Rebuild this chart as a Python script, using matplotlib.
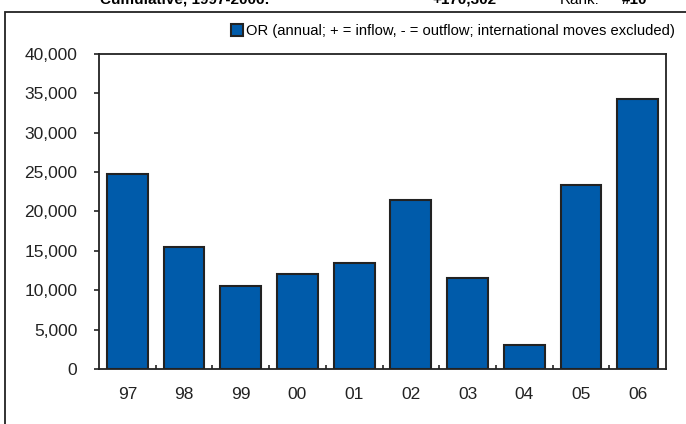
"""
OR annual net domestic migration, 1997-2006
"""

import matplotlib
matplotlib.use("Agg")
import matplotlib.pyplot as plt
from matplotlib.patches import Rectangle
from matplotlib.ticker import FuncFormatter

############################# Data #############################

years = ["97", "98", "99", "00", "01", "02", "03", "04", "05", "06"]
net_flow = [24800, 15500, 10600, 12050, 13500, 21450, 11600, 3050, 23400, 34300]

legend_label = "OR (annual; + = inflow, - = outflow; international moves excluded)"
cum_label = "Cumulative, 1997-2006:"
cum_value = "+170,302"
rank_label = "Rank:"
rank_value = "#10"

################################################################

plt.rcParams["font.family"] = ["Liberation Sans", "DejaVu Sans"]

W, H = 686, 424
fig = plt.figure(figsize=(W / 100, H / 100), dpi=100)

# outer frame (right and bottom edges run off the picture)
fig.patches.append(Rectangle((5 / W, -0.05), 1.2, 1 - 12 / H + 0.05,
                             transform=fig.transFigure, fill=False,
                             edgecolor="#222222", linewidth=1.3))

# header text, clipped by the top of the image as in the original
base_y = 1 - 4 / H
fig.text(100 / W, base_y, cum_label, fontsize=11, fontweight="bold", va="baseline")
fig.text(432 / W, base_y, cum_value, fontsize=11, fontweight="bold", va="baseline")
fig.text(560 / W, base_y, rank_label, fontsize=11, va="baseline")
fig.text(622 / W, base_y, rank_value, fontsize=11, fontweight="bold", va="baseline")

ax = fig.add_axes([99 / W, 1 - 369 / H, (666 - 99) / W, (369 - 54) / H])

x = list(range(len(years)))
ax.bar(x, net_flow, width=0.72, color="#005BAA", edgecolor="#222222",
       linewidth=1.5, label=legend_label, zorder=3)

ax.set_xlim(-0.5, len(years) - 0.5)
ax.set_ylim(0, 40000)
ax.set_yticks(range(0, 40001, 5000))
ax.yaxis.set_major_formatter(FuncFormatter(lambda v, p: f"{int(v):,}"))

ax.set_xticks(x)
ax.set_xticklabels(years)
ax.set_xticks([i + 0.5 for i in x[:-1]], minor=True)

ax.tick_params(axis="y", direction="out", length=3.6, width=1.2, pad=12,
               labelsize=12.5, colors="#222222")
ax.tick_params(axis="x", which="major", length=0, pad=13, labelsize=12.5,
               colors="#222222")
ax.tick_params(axis="x", which="minor", direction="in", length=3, width=1.2,
               color="#222222")

for s in ax.spines.values():
    s.set_color("#222222")
    s.set_linewidth(1.3)

leg = fig.legend(loc="center", bbox_to_anchor=(453 / W, 1 - 31 / H),
                 frameon=False, fontsize=10.6, handlelength=0.8,
                 handleheight=0.8, handletextpad=0.25, borderaxespad=0)

fig.savefig("out.png", dpi=100)
